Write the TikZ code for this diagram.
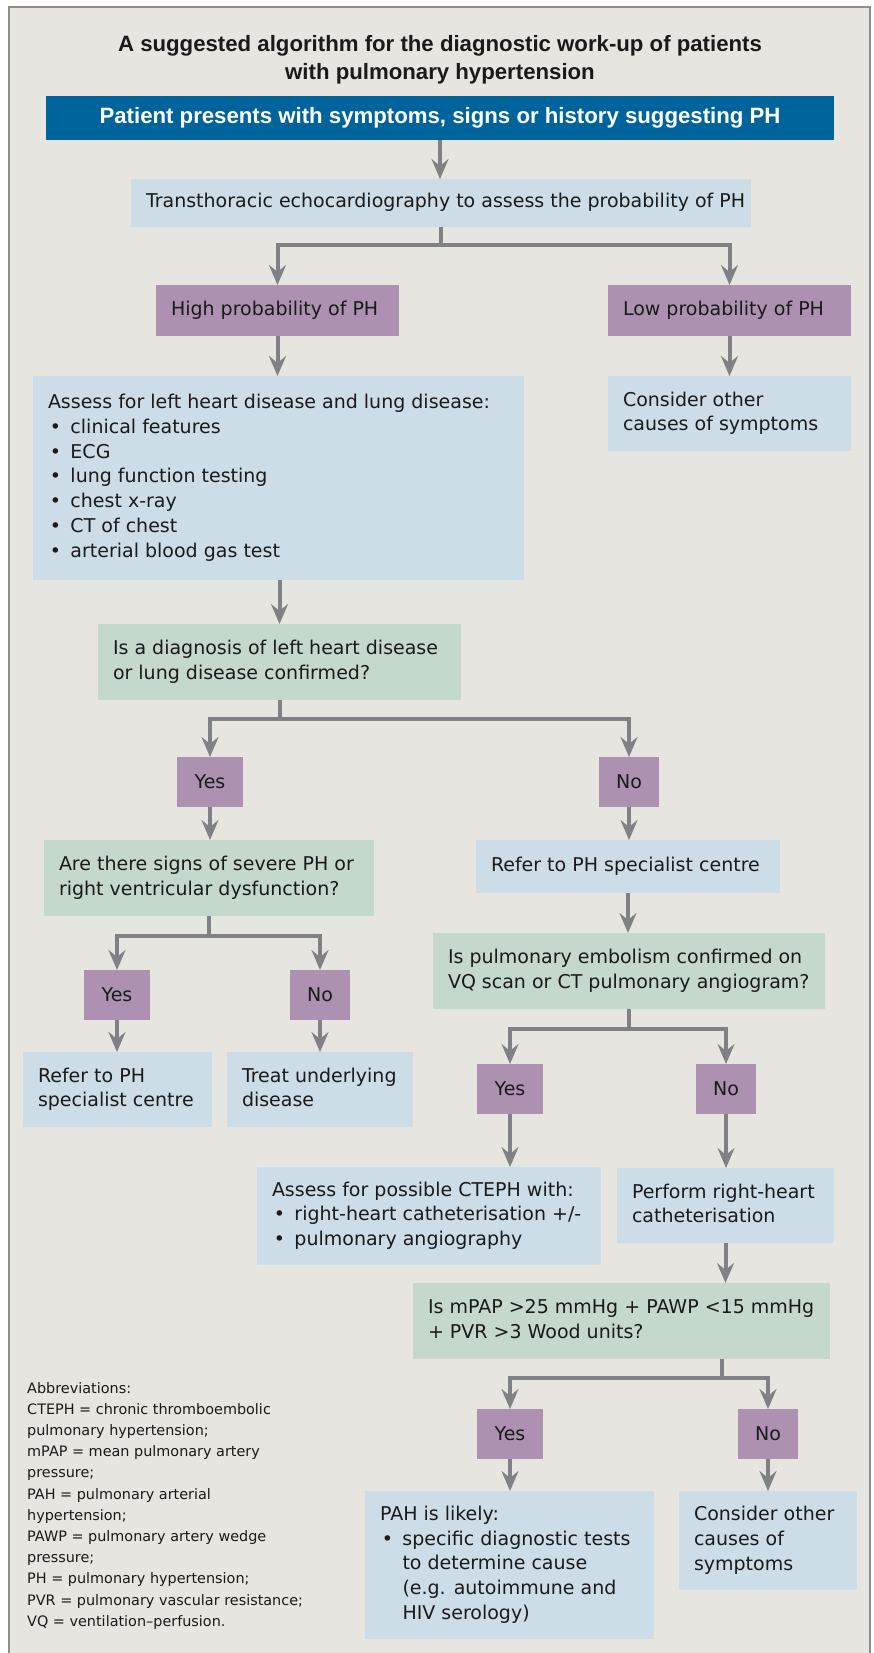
\documentclass[tikz,border=0pt]{standalone}
\usepackage{fontspec}
\setmainfont{DejaVu Sans}
\newfontfamily\hfont{Liberation Sans}
\usetikzlibrary{arrows.meta}
\definecolor{bg}{HTML}{E6E5DF}
\definecolor{framec}{HTML}{8E8E8E}
\definecolor{hblue}{HTML}{00649C}
\definecolor{lblue}{HTML}{CCDDE7}
\definecolor{purp}{HTML}{AC91B1}
\definecolor{lgreen}{HTML}{C5D8CC}
\definecolor{agray}{HTML}{808184}
\definecolor{ink}{HTML}{1A1A1A}
\newcommand\bodyfont{\fontsize{19.0}{24.8}\selectfont}
\newcommand\bul{\makebox[22.5pt][l]{\hspace{1.8pt}\textbullet}}
\newcommand\ind{\hspace*{22.5pt}}
% box with left-aligned text: name, style, x1, y1, x2, y2, text
\newcommand\bx[7]{%
  \pgfmathsetmacro\bxw{#5-#3}\pgfmathsetmacro\bxh{#6-#4}\pgfmathsetmacro\bxt{#5-#3-30}%
  \node[#2, minimum width=\bxw pt, minimum height=\bxh pt, anchor=north west] (#1) at (#3,#4)
    {\makebox[\bxt pt][l]{\begin{tabular}{@{}l@{}}#7\end{tabular}}};}
% small centred box: name, x1, y1, x2, y2, text
\newcommand\yn[6]{%
  \pgfmathsetmacro\bxw{#4-#2}\pgfmathsetmacro\bxh{#5-#3}%
  \node[ynbox, minimum width=\bxw pt, minimum height=\bxh pt, anchor=north west] (#1) at (#2,#3) {#6};}
\begin{document}
\begin{tikzpicture}[x=1pt,y=-1pt,
  box/.style={inner xsep=15pt, inner ysep=0pt, outer sep=0pt, font=\bodyfont, text=ink},
  bluebox/.style={box, fill=lblue},
  greenbox/.style={box, fill=lgreen},
  purpbox/.style={box, fill=purp},
  ynbox/.style={fill=purp, inner sep=0pt, outer sep=0pt, font=\bodyfont, text=ink},
  titlefont/.style={font={\hfont\bfseries\fontsize{22.2}{26}\selectfont}, text=ink, inner sep=0pt},
  conn/.style={draw=agray, line width=4pt},
  arr/.style={conn, -{Stealth[length=20pt,width=17pt,inset=7pt]}}]
\useasboundingbox (0,0) rectangle (873,1653);
\fill[white] (0,0) rectangle (873,1653);
\fill[bg] (9,7) rectangle (870,1653);
\draw[framec, line width=1.5pt] (9,1653) -- (9,7) -- (870,7) -- (870,1653);

\node[titlefont, anchor=base] (title1) at (440,52) {A suggested algorithm for the diagnostic work-up of patients};
\node[titlefont, anchor=base] (title2) at (440,80) {with pulmonary hypertension};

\node[fill=hblue, text=white, font={\hfont\bfseries\fontsize{22.2}{26}\selectfont},
  minimum width=788pt, minimum height=44pt, inner sep=0pt, outer sep=0pt, anchor=north west]
  (header) at (46,96) {Patient presents with symptoms, signs or history suggesting PH};

\bx{echo}{bluebox}{131}{179}{751}{227}{Transthoracic echocardiography to assess the probability of PH}
\bx{high}{purpbox}{156}{285}{399}{336}{High probability of PH}
\bx{low}{purpbox}{608}{285}{851}{336}{Low probability of PH}
\bx{assess}{bluebox}{33}{376}{524}{580}{Assess for left heart disease and lung disease:\\
  \bul clinical features\\ \bul ECG\\ \bul lung function testing\\ \bul chest x-ray\\
  \bul CT of chest\\ \bul arterial blood gas test}
\bx{consider}{bluebox}{608}{376}{851}{451}{Consider other\\ causes of symptoms}
\bx{diag}{greenbox}{98}{624}{461}{700}{Is a diagnosis of left heart disease\\ or lung disease confirmed?}
\yn{yes1}{177}{757}{243}{807}{Yes}
\yn{no1}{599}{757}{659}{807}{No}
\bx{severe}{greenbox}{44}{840}{374}{916}{Are there signs of severe PH or\\ right ventricular dysfunction?}
\bx{refer}{bluebox}{476}{840}{780}{893}{Refer to PH specialist centre}
\bx{embol}{greenbox}{433}{933}{825}{1009}{Is pulmonary embolism confirmed on\\ VQ scan or CT pulmonary angiogram?}
\yn{yes2}{84}{970}{150}{1020}{Yes}
\yn{no2}{290}{970}{350}{1020}{No}
\bx{refer2}{bluebox}{23}{1052}{212}{1127}{Refer to PH\\ specialist centre}
\bx{treat}{bluebox}{227}{1052}{413}{1127}{Treat underlying\\ disease}
\yn{yes3}{477}{1064}{543}{1114}{Yes}
\yn{no3}{696}{1064}{756}{1114}{No}
\bx{cteph}{bluebox}{257}{1167}{601}{1265}{Assess for possible CTEPH with:\\
  \bul right-heart catheterisation +/-\\ \bul pulmonary angiography}
\bx{rhc}{bluebox}{617}{1168}{834}{1243}{Perform right-heart\\ catheterisation}
\bx{mpap}{greenbox}{413}{1283}{830}{1359}{Is mPAP >25 mmHg + PAWP <15 mmHg\\ + PVR >3 Wood units?}
\yn{yes4}{477}{1409}{543}{1459}{Yes}
\yn{no4}{738}{1409}{798}{1459}{No}
\bx{pah}{bluebox}{365}{1491}{654}{1639}{PAH is likely:\\ \bul specific diagnostic tests\\
  \ind to determine cause\\ \ind (e.g. autoimmune and\\ \ind HIV serology)}
\bx{consider2}{bluebox}{679}{1491}{857}{1590}{Consider other\\ causes of\\ symptoms}

\node[anchor=north west, inner sep=0pt, align=left, text=ink, font=\fontsize{14.4}{21.2}\selectfont]
  (abbr) at (27,1382) {Abbreviations:\\
  CTEPH = chronic thromboembolic\\ pulmonary hypertension;\\
  mPAP = mean pulmonary artery\\ pressure;\\
  PAH = pulmonary arterial\\ hypertension;\\
  PAWP = pulmonary artery wedge\\ pressure;\\
  PH = pulmonary hypertension;\\
  PVR = pulmonary vascular resistance;\\
  VQ = ventilation–perfusion.};

% connectors
\draw[arr] (header.south) -- (header.south |- echo.north);
\coordinate (j1) at (441,245);
\draw[conn] (echo.south) -- (j1);
\draw[arr] (j1) -| (high.north);
\draw[arr] (j1) -| (low.north);
\draw[arr] (high.south) -- (high.south |- assess.north);
\draw[arr] (low.south) -- (low.south |- consider.north);
\draw[arr] (diag.north |- assess.south) -- (diag.north);
\coordinate (j2) at (279.5,719);
\draw[conn] (diag.south) -- (j2);
\draw[arr] (j2) -| (yes1.north);
\draw[arr] (j2) -| (no1.north);
\draw[arr] (yes1.south) -- (yes1.south |- severe.north);
\draw[arr] (no1.south) -- (no1.south |- refer.north);
\draw[arr] (refer.south) -- (refer.south |- embol.north);
\coordinate (j3) at (209,936);
\draw[conn] (severe.south) -- (j3);
\draw[arr] (j3) -| (yes2.north);
\draw[arr] (j3) -| (no2.north);
\draw[arr] (yes2.south) -- (yes2.south |- refer2.north);
\draw[arr] (no2.south) -- (no2.south |- treat.north);
\coordinate (j4) at (629,1029);
\draw[conn] (embol.south) -- (j4);
\draw[arr] (j4) -| (yes3.north);
\draw[arr] (j4) -| (no3.north);
\draw[arr] (yes3.south) -- (yes3.south |- cteph.north);
\draw[arr] (no3.south) -- (no3.south |- rhc.north);
\draw[arr] (rhc.south) -- (rhc.south |- mpap.north);
\coordinate (j5) at (722,1378);
\draw[conn] (j5 |- mpap.south) -- (j5);
\draw[arr] (j5) -| (yes4.north);
\draw[arr] (j5) -| (no4.north);
\draw[arr] (yes4.south) -- (yes4.south |- pah.north);
\draw[arr] (no4.south) -- (no4.south |- consider2.north);
\end{tikzpicture}
\end{document}
